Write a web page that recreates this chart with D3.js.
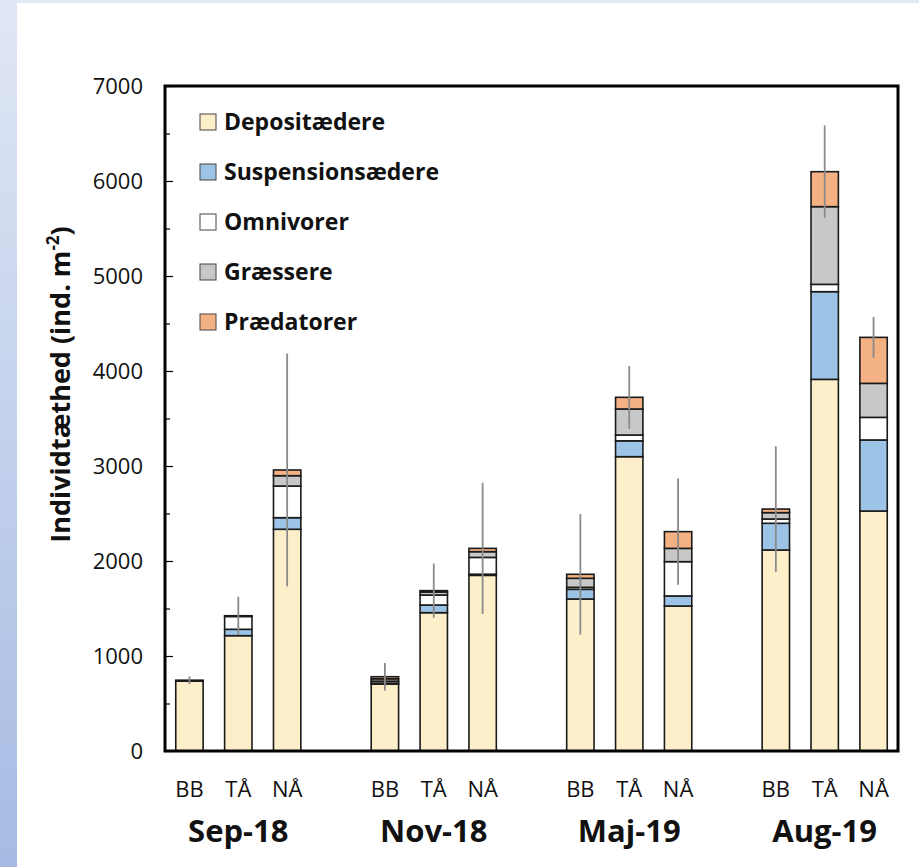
<!DOCTYPE html>
<html>
<head>
<meta charset="utf-8">
<script src="https://cdn.jsdelivr.net/npm/d3@7"></script>
<style>
  body { margin: 0; padding: 0; }
  svg { display: block; font-family: "Open Sans", Lato, sans-serif; }
</style>
</head>
<body>
<svg width="919" height="867"></svg>
<script>
var periods = ["Sep-18", "Nov-18", "Maj-19", "Aug-19"];
var sites = ["BB", "TÅ", "NÅ"];
var groups = ["Depositædere", "Suspensionsædere", "Omnivorer", "Græssere", "Prædatorer"];
var colors = ["#fdefc9", "#9dc3e6", "#ffffff", "#c8c8c8", "#f4b183"];

// order: Sep BB, Sep TÅ, Sep NÅ, Nov BB, ... Aug NÅ
var depositaedere    = [735, 1214, 2334, 705, 1456, 1849, 1600, 3098, 1526, 2116, 3912, 2526];
var suspensionsaedere = [0,    67,  122,  10,   81,   12,  102,  167,  106,  281,  923,  748];
var omnivorer        = [5,   135,  333,  20,  105,  177,   21,   61,  361,   45,   77,  238];
var graessere        = [5,     8,  109,  25,   32,   60,   95,  274,  140,   67,  818,  358];
var praedatorer      = [0,     0,   60,  22,   14,   35,   42,  123,  176,   38,  368,  484];
var errors           = [40,  200, 1225, 144,  285,  690,  635,  330,  560,  660,  486,  215];

var yTicks = [0, 1000, 2000, 3000, 4000, 5000, 6000, 7000];

var svg = d3.select("svg"),
    margin = {top: 86, right: 21, bottom: 116, left: 165},
    width = +svg.attr("width") - margin.left - margin.right,
    height = +svg.attr("height") - margin.top - margin.bottom;

// background frame
var defs = svg.append("defs");
var grad = defs.append("linearGradient").attr("id", "bg")
    .attr("x1", 0).attr("y1", 0).attr("x2", 0).attr("y2", 1);
grad.append("stop").attr("offset", "0%").attr("stop-color", "#e0e7f5");
grad.append("stop").attr("offset", "100%").attr("stop-color", "#a6bbe3");
svg.append("rect").attr("width", 919).attr("height", 867).attr("fill", "url(#bg)");
svg.append("rect").attr("x", 17).attr("y", 3).attr("width", 902).attr("height", 864).attr("fill", "#fff");

var g = svg.append("g").attr("transform", "translate(" + margin.left + "," + margin.top + ")");

// slots: 3 sites per period, one empty slot between periods
var slots = [];
periods.forEach(function(p, i) {
  sites.forEach(function(s) { slots.push(p + "|" + s); });
  if (i < periods.length - 1) slots.push("gap" + i);
});

var x = d3.scaleBand()
    .domain(slots)
    .range([0, width])
    .paddingInner(0.44)
    .paddingOuter(0.22);

var y = d3.scaleLinear()
    .domain([0, 7000])
    .range([height, 0]);

var data = [];
periods.forEach(function(p, i) {
  sites.forEach(function(s, j) {
    var k = i * 3 + j;
    data.push({
      key: p + "|" + s, period: p, site: s,
      "Depositædere": depositaedere[k],
      "Suspensionsædere": suspensionsaedere[k],
      "Omnivorer": omnivorer[k],
      "Græssere": graessere[k],
      "Prædatorer": praedatorer[k],
      err: errors[k]
    });
  });
});

var stack = d3.stack().keys(groups);
var series = stack(data);

g.selectAll("g.layer")
  .data(series)
  .enter().append("g")
    .attr("class", "layer")
    .attr("fill", function(d, i) { return colors[i]; })
  .selectAll("rect")
  .data(function(d) { return d.filter(function(e) { return e[1] > e[0]; }); })
  .enter().append("rect")
    .attr("x", function(d) { return x(d.data.key); })
    .attr("width", x.bandwidth())
    .attr("y", function(d) { return y(d[1]); })
    .attr("height", function(d) { return y(d[0]) - y(d[1]); })
    .attr("stroke", "#1a1a1a")
    .attr("stroke-width", 1.6);

// error bars
g.selectAll("line.err")
  .data(data)
  .enter().append("line")
    .attr("class", "err")
    .attr("x1", function(d) { return x(d.key) + x.bandwidth() / 2; })
    .attr("x2", function(d) { return x(d.key) + x.bandwidth() / 2; })
    .attr("y1", function(d) { return y(d3.sum(groups, function(k) { return d[k]; }) - d.err); })
    .attr("y2", function(d) { return y(d3.sum(groups, function(k) { return d[k]; }) + d.err); })
    .attr("stroke", "#8a8a8a")
    .attr("stroke-width", 1.8);

// y axis, ticks pointing inward
var yAxis = g.append("g")
    .call(d3.axisLeft(y).tickValues(yTicks).tickFormat(d3.format("d"))
      .tickSizeInner(-8).tickSizeOuter(0).tickPadding(22));
yAxis.select(".domain").remove();
yAxis.selectAll("line").attr("stroke", "#000").attr("stroke-width", 1.2);
yAxis.selectAll("text")
    .attr("font-size", 22)
    .attr("fill", "#111")
    .attr("font-family", "'Open Sans', sans-serif");

g.append("g")
    .call(d3.axisLeft(y).tickValues(d3.range(500, 7000, 1000)).tickSizeInner(-5).tickSizeOuter(0).tickFormat(""))
  .call(function(a) { a.select(".domain").remove(); })
  .selectAll("line").attr("stroke", "#000").attr("stroke-width", 1.2);

// frame
g.append("rect")
    .attr("width", width)
    .attr("height", height)
    .attr("fill", "none")
    .attr("stroke", "#000")
    .attr("stroke-width", 3);

// site labels
g.selectAll("text.site")
  .data(data)
  .enter().append("text")
    .attr("class", "site")
    .attr("x", function(d) { return x(d.key) + x.bandwidth() / 2; })
    .attr("y", height + 46)
    .attr("text-anchor", "middle")
    .attr("font-size", 22)
    .attr("fill", "#111")
    .text(function(d) { return d.site; });

// period labels
g.selectAll("text.period")
  .data(periods)
  .enter().append("text")
    .attr("class", "period")
    .attr("x", function(p) { return x(p + "|" + sites[1]) + x.bandwidth() / 2; })
    .attr("y", height + 91)
    .attr("text-anchor", "middle")
    .attr("font-size", 31)
    .attr("font-weight", "bold")
    .attr("fill", "#111")
    .text(function(p) { return p; });

// y title
var title = svg.append("text")
    .attr("transform", "translate(70," + (margin.top + height / 2 - 34) + ") rotate(-90)")
    .attr("text-anchor", "middle")
    .attr("font-size", 27)
    .attr("font-weight", "bold")
    .attr("fill", "#111");
title.append("tspan").text("Individtæthed (ind. m");
title.append("tspan").attr("baseline-shift", "super").attr("font-size", 17).text("-2");
title.append("tspan").text(")");

// legend
var legend = g.selectAll("g.legend")
  .data(groups)
  .enter().append("g")
    .attr("class", "legend")
    .attr("transform", function(d, i) { return "translate(35," + (36 + i * 50) + ")"; });

legend.append("rect")
    .attr("y", -8)
    .attr("width", 16)
    .attr("height", 16)
    .attr("fill", function(d, i) { return colors[i]; })
    .attr("stroke", "#444")
    .attr("stroke-width", 1);

legend.append("text")
    .attr("x", 24)
    .attr("dy", "0.35em")
    .attr("font-size", 23)
    .attr("font-weight", "bold")
    .attr("fill", "#111")
    .text(function(d) { return d; });
</script>
</body>
</html>
